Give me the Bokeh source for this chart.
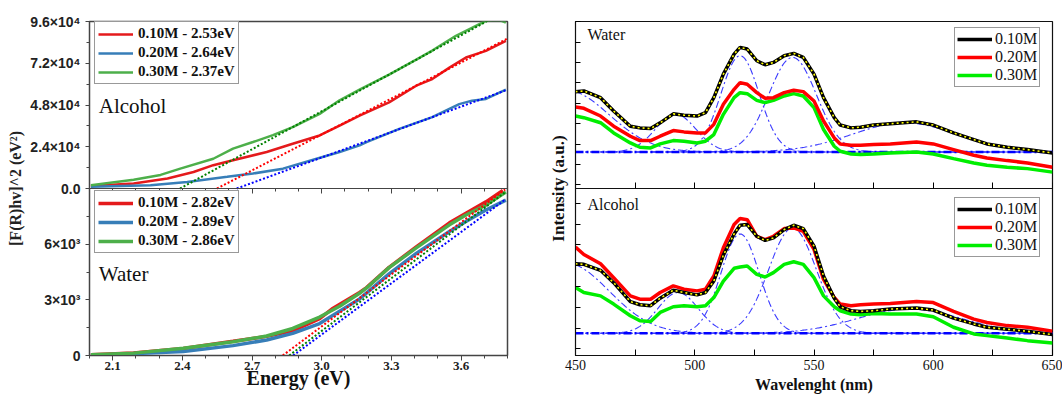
import numpy as np
from bokeh.plotting import figure
from bokeh.models import Range1d, LinearAxis, FixedTicker, Legend, LegendItem, Label, CustomJSTickFormatter
from bokeh.layouts import row
from bokeh.embed import file_html
from bokeh.resources import INLINE

SERIF = "Liberation Serif"
SANS = "Liberation Sans"

# ------------------------------------------------------------------
# Left panel data: [F(R)hv]^2 vs energy
# ------------------------------------------------------------------
alc_red_x = [2.006, 2.19, 2.336, 2.448, 2.533, 2.618, 2.763, 2.875, 2.991, 3.077, 3.163, 3.29, 3.407, 3.476, 3.55, 3.621, 3.707, 3.793]
alc_red_y = [1400, 2900, 5700, 9500, 13400, 16200, 21000, 25700, 30500, 36200, 41900, 49500, 59100, 62900, 69500, 75300, 79100, 84800]
alc_blue_x = [2.006, 2.263, 2.421, 2.593, 2.704, 2.833, 2.978, 3.077, 3.163, 3.193, 3.334, 3.476, 3.592, 3.647, 3.707, 3.793]
alc_blue_y = [1000, 1900, 3800, 6700, 8600, 11400, 17100, 21000, 24800, 26700, 34300, 41000, 48500, 50500, 51500, 56800]
alc_green_x = [2.006, 2.19, 2.306, 2.391, 2.533, 2.618, 2.704, 2.79, 2.875, 2.991, 3.077, 3.163, 3.29, 3.407, 3.476, 3.578, 3.647, 3.707, 3.763, 3.793]
alc_green_y = [1900, 5000, 7800, 11400, 17100, 22900, 26700, 30700, 35300, 42900, 50700, 56800, 65500, 74100, 79300, 87800, 92400, 96400, 97000, 95300]

alc_fit_red_x, alc_fit_red_y = [2.549, 3.8], [0, 86200]
alc_fit_blue_x, alc_fit_blue_y = [2.634, 3.8], [0, 56800]
alc_fit_green_x, alc_fit_green_y = [2.39, 3.8], [0, 102600]

wat_red_x = [2.006, 2.19, 2.404, 2.618, 2.763, 2.875, 2.991, 3.049, 3.163, 3.193, 3.29, 3.407, 3.55, 3.621, 3.707, 3.78]
wat_red_y = [40, 130, 380, 766, 1030, 1330, 1990, 2550, 3400, 3660, 4750, 5850, 7150, 7660, 8280, 8900]
wat_blue_x = [2.006, 2.404, 2.618, 2.763, 2.875, 2.991, 3.163, 3.29, 3.407, 3.55, 3.621, 3.707, 3.793]
wat_blue_y = [0, 213, 532, 835, 1191, 1723, 3050, 4400, 5500, 6686, 7218, 7840, 8372]
wat_green_x = [2.006, 2.19, 2.404, 2.618, 2.763, 2.875, 2.991, 3.077, 3.163, 3.193, 3.29, 3.407, 3.55, 3.621, 3.707, 3.793]
wat_green_y = [37, 128, 394, 745, 1048, 1457, 2074, 2650, 3350, 3640, 4734, 5798, 7042, 7574, 8106, 8814]

wat_fit_red_x, wat_fit_red_y = [2.832, 3.79], [0, 8950]
wat_fit_green_x, wat_fit_green_y = [2.86, 3.79], [0, 8800]
wat_fit_blue_x, wat_fit_blue_y = [2.877, 3.79], [0, 8400]

alc_labels = ["0.10M - 2.53eV", "0.20M - 2.64eV", "0.30M - 2.37eV"]
wat_labels = ["0.10M - 2.82eV", "0.20M - 2.89eV", "0.30M - 2.86eV"]

left_top_ticks = [0, 24000, 48000, 72000, 96000]
left_top_labels = ["0.0", "2.4×10⁴", "4.8×10⁴", "7.2×10⁴", "9.6×10⁴"]
left_bot_ticks = [0, 3000, 6000]
left_bot_labels = ["0", "3×10³", "6×10³"]
energy_ticks = [2.1, 2.4, 2.7, 3.0, 3.3, 3.6]
energy_labels = ["2.1", "2.4", "2.7", "3.0", "3.3", "3.6"]
energy_minor = [2.0, 2.2, 2.3, 2.5, 2.6, 2.8, 2.9, 3.1, 3.2, 3.4, 3.5, 3.7, 3.8]

# ------------------------------------------------------------------
# Right panel data: PL spectra (a.u.)
# ------------------------------------------------------------------
wl = [450, 453.5, 460.5, 466, 473, 477, 481.5, 485.5, 491, 495.5, 501, 504.5, 508, 512, 516.5, 519, 522, 526,
      529.5, 533, 537.5, 541.5, 545.5, 550, 554, 558.5, 561, 565.5, 569.5, 575, 582, 593, 600, 608.5, 617,
      622.5, 631, 639.5, 650]
water_010 = [58.0, 58.4, 54.4, 46.4, 37.3, 36.3, 35.9, 39.3, 44.7, 43.9, 43.4, 45.4, 54.4, 68.5, 80.5, 84.5, 83.5, 76.5,
             74.1, 75.5, 79.5, 80.9, 78.5, 68.5, 54.4, 42.4, 38.0, 36.3, 36.7, 38.0, 38.8, 39.9, 38.0, 33.3, 29.3,
             26.7, 24.7, 23.3, 21.3]
water_020 = [48.8, 48.0, 43.4, 37.3, 31.3, 28.7, 28.7, 31.3, 34.7, 33.9, 33.3, 33.3, 38.4, 50.4, 59.4, 63.4, 62.4, 57.4,
             54.0, 54.4, 57.4, 58.8, 58.0, 52.4, 40.4, 30.3, 26.7, 25.9, 25.9, 26.3, 26.7, 27.9, 26.7, 23.3, 19.9,
             18.3, 16.7, 15.3, 12.7]
water_030 = [43.4, 42.4, 39.4, 33.3, 27.3, 24.7, 24.3, 26.7, 28.7, 28.3, 27.3, 28.3, 32.3, 44.4, 54.4, 57.4, 56.8, 52.8,
             51.4, 52.8, 55.4, 56.8, 55.4, 48.4, 35.3, 25.3, 22.3, 20.7, 20.3, 20.7, 21.3, 21.9, 20.7, 17.9, 15.3,
             13.9, 12.7, 11.9, 9.8]
alc_010 = [54.9, 54.6, 51.0, 43.6, 32.3, 30.4, 29.8, 34.3, 39.1, 37.7, 36.3, 37.7, 44.6, 60.1, 72.8, 78.0, 78.4, 71.4,
           68.9, 70.4, 75.4, 78.0, 76.0, 65.5, 47.6, 34.3, 29.2, 26.8, 26.4, 26.8, 27.8, 28.4, 27.2, 22.4, 18.9,
           16.9, 15.7, 14.5, 12.5]
alc_020 = [64.9, 60.5, 54.9, 46.6, 35.7, 33.7, 33.7, 37.7, 41.7, 39.7, 38.7, 39.7, 47.6, 64.5, 78.4, 82.0, 81.3, 71.4,
           69.4, 71.4, 76.0, 76.4, 74.4, 63.5, 45.6, 34.7, 30.8, 29.8, 30.4, 30.8, 31.1, 32.3, 31.7, 26.4, 21.8,
           19.8, 17.9, 16.9, 14.5]
alc_030 = [40.7, 37.7, 35.7, 30.8, 23.8, 20.8, 20.4, 25.8, 29.2, 29.8, 29.2, 29.8, 34.7, 44.6, 52.2, 53.0, 53.6, 48.6,
           47.0, 49.6, 54.6, 56.1, 54.6, 46.6, 35.7, 29.2, 26.8, 24.8, 24.4, 25.2, 24.8, 24.8, 23.2, 16.9, 12.9,
           11.9, 10.5, 8.9, 7.5]

# Gaussian fit components (centre nm, height above baseline, sigma nm)
water_base = 21.9
water_centres = [446, 492, 519, 541, 588]
water_heights = [37, 22.5, 57.6, 56.6, 17.4]
water_sigmas = [18, 8.5, 8, 10, 22]
alc_base = 13.3
alc_centres = [446, 493, 519, 541, 590]
alc_heights = [42, 24.4, 59.5, 63, 14.5]
alc_sigmas = [18, 8.5, 8, 10, 22]

pl_labels = ["0.10M", "0.20M", "0.30M"]
wl_ticks = [450, 500, 550, 600, 650]
wl_minor = [475, 525, 575, 625]

BLANK = CustomJSTickFormatter(code="return '';")

def hide_labels(ax):
    ax.formatter = BLANK
    ax.major_label_text_color = None
    ax.major_label_text_font_size = "1px"
    ax.major_label_standoff = 0

# ------------------------------------------------------------------
# Left figure
# ------------------------------------------------------------------
GREY = "#444444"
pL = figure(width=527, height=396, x_range=Range1d(2.0, 3.8), y_range=Range1d(0, 18),
            output_backend="svg", toolbar_location=None,
            min_border_left=89, min_border_right=20, min_border_top=17, min_border_bottom=40)
pL.extra_y_ranges = {"top": Range1d(-96000, 96000), "bot": Range1d(0, 18000)}
pL.xgrid.visible = False
pL.ygrid.visible = False
pL.outline_line_color = GREY
pL.outline_line_width = 1.5
pL.background_fill_color = "white"
pL.border_fill_color = "white"

RED, BLUE, GREEN = "#e41a1c", "#377eb8", "#4daf4a"
r1 = pL.line(alc_red_x, alc_red_y, y_range_name="top", color=RED, line_width=2.5)
r2 = pL.line(alc_blue_x, alc_blue_y, y_range_name="top", color=BLUE, line_width=2.5)
r3 = pL.line(alc_green_x, alc_green_y, y_range_name="top", color=GREEN, line_width=2.5)
pL.line(alc_fit_red_x, alc_fit_red_y, y_range_name="top", color="#ff0000", line_width=2, line_dash="2 2")
pL.line(alc_fit_blue_x, alc_fit_blue_y, y_range_name="top", color="#0000ff", line_width=2, line_dash="2 2")
pL.line(alc_fit_green_x, alc_fit_green_y, y_range_name="top", color="#008000", line_width=2, line_dash="2 2")

w1 = pL.line(wat_red_x, wat_red_y, y_range_name="bot", color=RED, line_width=3.5)
w2 = pL.line(wat_blue_x, wat_blue_y, y_range_name="bot", color=BLUE, line_width=3.5)
w3 = pL.line(wat_green_x, wat_green_y, y_range_name="bot", color=GREEN, line_width=3.5)
pL.line(wat_fit_red_x, wat_fit_red_y, y_range_name="bot", color="#ff0000", line_width=2, line_dash="2 2")
pL.line(wat_fit_green_x, wat_fit_green_y, y_range_name="bot", color="#008000", line_width=2, line_dash="2 2")
pL.line(wat_fit_blue_x, wat_fit_blue_y, y_range_name="bot", color="#0000ff", line_width=2, line_dash="2 2")

# y axis ticks: bottom half 0..9 (thousands), top half 9..18
top_pos = [9 + v * 9 / 96000 for v in left_top_ticks]
bot_pos = [v / 1000 for v in left_bot_ticks]
top_minor = [(a + b) / 2 for a, b in zip(top_pos[:-1], top_pos[1:])]
bot_minor = [1.5, 4.5, 7.5]
overrides = {}
for p_, l_ in zip(bot_pos, left_bot_labels):
    overrides[p_] = l_
for p_, l_ in zip(top_pos, left_top_labels):
    overrides[p_] = l_
ya = pL.yaxis[0]
ya.ticker = FixedTicker(ticks=bot_pos + top_pos, minor_ticks=bot_minor + top_minor)
ya.major_label_overrides = overrides
ya.major_label_text_font = SANS
ya.major_label_text_font_style = "bold"
ya.major_label_text_font_size = "14px"
ya.major_label_text_color = "#222222"
ya.major_label_standoff = 5
ya.major_tick_out = 4
ya.major_tick_in = 0
ya.minor_tick_out = 3
ya.minor_tick_in = 0
ya.axis_line_color = GREY
ya.major_tick_line_color = GREY
ya.minor_tick_line_color = GREY
ya.axis_label = "[F(R)hv]^2 (eV²)"
ya.axis_label_text_font = SERIF
ya.axis_label_text_font_style = "bold"
ya.axis_label_text_font_size = "16px"
ya.axis_label_text_color = "#222222"
ya.axis_label_standoff = 3

xa = pL.xaxis[0]
xa.ticker = FixedTicker(ticks=energy_ticks, minor_ticks=energy_minor)
xa.major_label_overrides = {t: l for t, l in zip(energy_ticks, energy_labels)}
xa.major_label_text_font = SERIF
xa.major_label_text_font_style = "bold"
xa.major_label_text_font_size = "13px"
xa.major_label_text_color = "#222222"
xa.major_label_standoff = 1
xa.major_tick_out = 5
xa.major_tick_in = 0
xa.minor_tick_out = 3
xa.minor_tick_in = 0
xa.axis_line_color = GREY
xa.major_tick_line_color = GREY
xa.minor_tick_line_color = GREY
xa.axis_label = "Energy (eV)"
xa.axis_label_text_font = SERIF
xa.axis_label_text_font_style = "bold"
xa.axis_label_text_font_size = "20px"
xa.axis_label_text_color = "#111111"
xa.axis_label_standoff = -6

midL = LinearAxis(fixed_location=9, ticker=FixedTicker(ticks=energy_ticks, minor_ticks=energy_minor),
                  major_tick_in=5, major_tick_out=0, minor_tick_in=3, minor_tick_out=0,
                  axis_line_color=GREY, major_tick_line_color=GREY, minor_tick_line_color=GREY)
hide_labels(midL)
pL.add_layout(midL, "above")

def make_legend(items, loc, font_size, bold, border_w, pad, standoff, spacing):
    return Legend(items=items, location=loc, label_text_font=SERIF,
                  label_text_font_style="bold" if bold else "normal",
                  label_text_font_size=font_size, label_text_color="#111111",
                  glyph_width=35, glyph_height=16, label_height=16, spacing=spacing,
                  padding=pad, margin=0, label_standoff=standoff,
                  border_line_color="#333333", border_line_width=border_w,
                  background_fill_color="white", background_fill_alpha=1)

pL.add_layout(make_legend([LegendItem(label=alc_labels[0], renderers=[r1]),
                           LegendItem(label=alc_labels[1], renderers=[r2]),
                           LegendItem(label=alc_labels[2], renderers=[r3])],
                          (5, 271), "15px", True, 1.5, 3, 5, 2))
pL.add_layout(make_legend([LegendItem(label=wat_labels[0], renderers=[w1]),
                           LegendItem(label=wat_labels[1], renderers=[w2]),
                           LegendItem(label=wat_labels[2], renderers=[w3])],
                          (5, 102), "15px", True, 1.5, 3, 5, 2))

pL.add_layout(Label(x=2.04, y=13.44, text="Alcohol", text_font=SERIF, text_font_size="21px",
                    text_baseline="middle", text_color="#111111"))
pL.add_layout(Label(x=2.04, y=4.4, text="Water", text_font=SERIF, text_font_size="21px",
                    text_baseline="middle", text_color="#111111"))

# ------------------------------------------------------------------
# Right figure
# ------------------------------------------------------------------
pR = figure(width=535, height=396, x_range=Range1d(450, 650), y_range=Range1d(0, 200),
            output_backend="svg", toolbar_location=None,
            min_border_left=48, min_border_right=10, min_border_top=21, min_border_bottom=41)
pR.extra_y_ranges = {"top": Range1d(-100, 100), "bot": Range1d(0, 200)}
pR.xgrid.visible = False
pR.ygrid.visible = False
pR.outline_line_color = "#111111"
pR.outline_line_width = 1.2
pR.background_fill_color = "white"
pR.border_fill_color = "white"

wl_fine = np.linspace(450, 650, 401)

def draw_panel(rng, base, centres, heights, sigmas, s1, s2, s3):
    for c, h, s in zip(centres, heights, sigmas):
        comp = base + h * np.exp(-(wl_fine - c) ** 2 / (2 * s * s))
        pR.line(wl_fine, comp, y_range_name=rng, color="#3a3aff", line_width=1.1, line_dash="7 3 2 3")
    pR.line([450, 650], [base, base], y_range_name=rng, color="#0000ff", line_width=2.5, line_dash="8 3 2 3")
    g = pR.line(wl, s3, y_range_name=rng, color="#00ee00", line_width=3.5)
    r = pR.line(wl, s2, y_range_name=rng, color="#ff0000", line_width=3.5)
    k = pR.line(wl, s1, y_range_name=rng, color="#000000", line_width=3.5)
    pR.line(wl, s1, y_range_name=rng, color="#ffff00", line_width=1.6, line_dash="2 3")
    return k, r, g

k1, r1b, g1 = draw_panel("top", water_base, water_centres, water_heights, water_sigmas, water_010, water_020, water_030)
k2, r2b, g2 = draw_panel("bot", alc_base, alc_centres, alc_heights, alc_sigmas, alc_010, alc_020, alc_030)

bot_t = [round(4 + 12.45 * k, 2) for k in range(8)]
top_t = [round(102.2 + 12.2 * k, 2) for k in range(9)]
yr = pR.yaxis[0]
yr.ticker = FixedTicker(ticks=bot_t + top_t, minor_ticks=[])
yr.major_tick_in = 5
yr.major_tick_out = 0
hide_labels(yr)
yr.axis_line_color = "#111111"
yr.axis_label = "Intensity (a.u.)"
yr.axis_label_text_font = SERIF
yr.axis_label_text_font_style = "bold"
yr.axis_label_text_font_size = "17px"
yr.axis_label_text_color = "#111111"
yr.axis_label_standoff = 8

xr = pR.xaxis[0]
xr.ticker = FixedTicker(ticks=wl_ticks, minor_ticks=wl_minor)
xr.major_tick_in = 6
xr.major_tick_out = 0
xr.minor_tick_in = 6
xr.minor_tick_out = 0
xr.major_label_text_font = SERIF
xr.major_label_text_font_size = "14px"
xr.major_label_text_color = "#111111"
xr.major_label_standoff = 4
xr.axis_line_color = "#111111"
xr.axis_label = "Wavelenght (nm)"
xr.axis_label_text_font = SERIF
xr.axis_label_text_font_style = "bold"
xr.axis_label_text_font_size = "16px"
xr.axis_label_text_color = "#111111"
xr.axis_label_standoff = 3

midR = LinearAxis(fixed_location=100, ticker=FixedTicker(ticks=wl_ticks, minor_ticks=wl_minor),
                  major_tick_in=6, major_tick_out=0, minor_tick_in=6, minor_tick_out=0,
                  axis_line_color="#111111")
hide_labels(midR)
pR.add_layout(midR, "below")

pR.add_layout(make_legend([LegendItem(label=pl_labels[0], renderers=[k1]),
                           LegendItem(label=pl_labels[1], renderers=[r1b]),
                           LegendItem(label=pl_labels[2], renderers=[g1])],
                          (379, 268), "16px", False, 1, 2, 3, 0))
pR.add_layout(make_legend([LegendItem(label=pl_labels[0], renderers=[k2]),
                           LegendItem(label=pl_labels[1], renderers=[r2b]),
                           LegendItem(label=pl_labels[2], renderers=[g2])],
                          (379, 98), "16px", False, 1, 2, 3, 0))

pR.add_layout(Label(x=455, y=192.2, text="Water", text_font=SERIF, text_font_size="16px",
                    text_baseline="middle", text_color="#111111"))
pR.add_layout(Label(x=455, y=90.4, text="Alcohol", text_font=SERIF, text_font_size="16px",
                    text_baseline="middle", text_color="#111111"))

layout = row(pL, pR)
open("out.html", "w").write(file_html(layout, INLINE))
